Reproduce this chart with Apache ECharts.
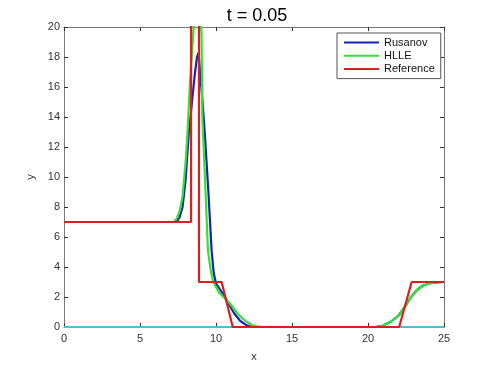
<!DOCTYPE html>
<html><head><meta charset="utf-8">
<script src="https://cdn.jsdelivr.net/npm/echarts@6/dist/echarts.min.js"></script>
<style>html,body{margin:0;padding:0;background:#fff}#c{width:490px;height:368px}</style>
</head><body><div id="c"></div>
<script>
const titleText = 't = 0.05';
const legendNames = ['Rusanov', 'HLLE', 'Reference'];

const bottomX = [0, 25];
const bottomY = [0, 0];

const rusanovX = [0, 7.4, 7.6, 7.8, 8.0, 8.2, 8.4, 8.6, 8.75, 8.85, 8.95, 9.1, 9.25, 9.5, 9.71, 9.85, 10.0, 10.4, 10.8, 11.2, 11.6, 12.0, 12.4, 20.5, 21.0, 21.5, 22.0, 22.4, 22.8, 23.2, 23.6, 24.0, 24.5, 25];
const rusanovY = [7, 7, 7.3, 8.0, 9.8, 12.8, 14.8, 16.8, 18.0, 18.3, 17.0, 15.2, 13.1, 9.0, 5.1, 3.6, 2.9, 2.3, 1.6, 0.9, 0.4, 0.12, 0, 0, 0.1, 0.35, 0.75, 1.3, 1.95, 2.45, 2.75, 2.9, 2.97, 3.0];

const hlleX = [0, 7.2, 7.4, 7.6, 7.8, 8.0, 8.1, 8.3, 8.55, 8.75, 8.95, 9.05, 9.1, 9.25, 9.47, 9.65, 9.82, 10.2, 10.9, 11.5, 12.0, 12.4, 12.8, 13.2, 20.5, 21.0, 21.5, 22.0, 22.4, 22.8, 23.2, 23.6, 24.0, 24.5, 25];
const hlleY = [7, 7, 7.2, 7.7, 8.7, 11.0, 12.5, 16.5, 20.3, 21.5, 21.0, 19.5, 14.0, 10.5, 5.1, 3.8, 3.0, 2.3, 1.58, 0.8, 0.35, 0.12, 0.02, 0, 0, 0.1, 0.35, 0.75, 1.3, 1.95, 2.45, 2.75, 2.9, 2.97, 3.0];

const refX = [0, 8.36, 8.36, 8.88, 8.88, 10.37, 11.1, 22.05, 22.87, 25];
const refY = [7, 7, 30, 30, 3, 3, 0, 0, 3, 3];

function zip(xs, ys) { return xs.map((x, i) => [x, ys[i]]); }

const chart = echarts.init(document.getElementById('c'), null, {renderer: 'canvas'});
const axisCol = '#7a7a7a';
const labCol = '#333';
const font = 'Liberation Sans, Arial, sans-serif';

function xa(pos, show) {
  return {
    type: 'value', position: pos, min: 0, max: 25, interval: 5,
    axisLine: {show: true, onZero: false, lineStyle: {color: axisCol, width: 1}},
    axisTick: {show: true, inside: true, length: 4, lineStyle: {color: '#333'}},
    axisLabel: {show: show, color: labCol, fontSize: 11, fontFamily: font, margin: 6},
    splitLine: {show: false},
    name: show ? 'x' : '', nameLocation: 'middle', nameGap: 24,
    nameTextStyle: {color: labCol, fontSize: 11, fontFamily: font}
  };
}
function ya(pos, show) {
  return {
    type: 'value', position: pos, min: 0, max: 20, interval: 2,
    axisLine: {show: true, onZero: false, lineStyle: {color: axisCol, width: 1}},
    axisTick: {show: true, inside: true, length: 4, lineStyle: {color: '#333'}},
    axisLabel: {show: show, color: labCol, fontSize: 11, fontFamily: font, margin: 4},
    splitLine: {show: false},
    name: show ? 'y' : '', nameLocation: 'middle', nameGap: 23, nameRotate: 90,
    nameTextStyle: {color: labCol, fontSize: 11, fontFamily: font}
  };
}

function line(name, xs, ys, color, w) {
  return {
    name: name, type: 'line', data: zip(xs, ys), showSymbol: false, symbol: 'none',
    clip: true, animation: false, lineStyle: {color: color, width: w}, itemStyle: {color: color}
  };
}

chart.setOption({
  animation: false,
  backgroundColor: '#fff',
  title: {text: titleText, left: 252, top: 2, textAlign: 'center',
    textStyle: {fontSize: 18, fontWeight: 'normal', color: '#000', fontFamily: font}},
  grid: {left: 64, right: 46, top: 27, bottom: 41, containLabel: false},
  xAxis: [xa('bottom', true), xa('top', false)],
  yAxis: [ya('left', true), ya('right', false)],
  legend: {
    data: legendNames, orient: 'vertical', left: 337, top: 33,
    backgroundColor: '#fff', borderColor: '#555', borderWidth: 1,
    padding: [4, 6, 4, 6], itemGap: 2, itemWidth: 35, itemHeight: 14,
    itemStyle: {opacity: 0},
    lineStyle: {width: 2},
    textStyle: {fontSize: 11, color: '#111', fontFamily: font}
  },
  series: [
    line('bottom', bottomX, bottomY, '#45c3cf', 2),
    line('Rusanov', rusanovX, rusanovY, '#1525b0', 2.2),
    line('HLLE', hlleX, hlleY, '#35e035', 2.2),
    line('Reference', refX, refY, '#d82020', 2.2)
  ]
});
</script></body></html>
